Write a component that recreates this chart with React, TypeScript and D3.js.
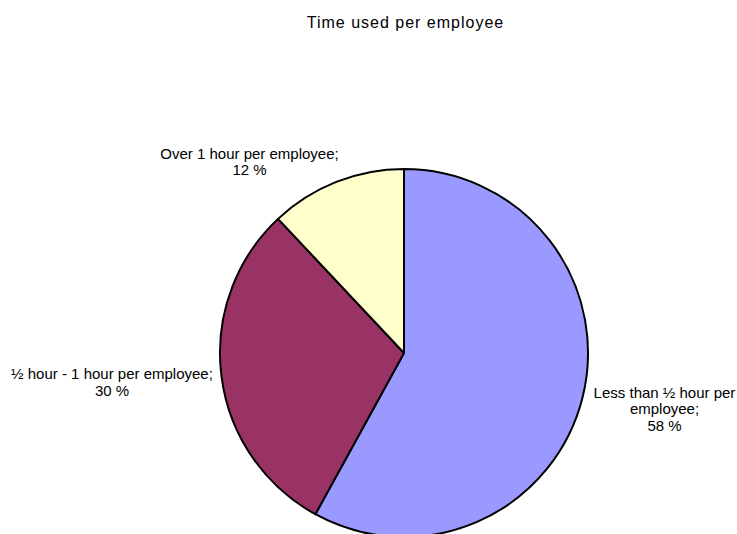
import React from "react";
import * as d3 from "d3";

const categories = ["Less than ½ hour per employee", "½ hour - 1 hour per employee", "Over 1 hour per employee"];
const values = [58, 30, 12];
const colors = ["#9999FF", "#993366", "#FFFFCC"];
const labelLines = [
  ["Less than ½ hour per", "employee;", "58 %"],
  ["½ hour - 1 hour per employee;", "30  %"],
  ["Over 1 hour per employee;", "12 %"],
];
const title = "Time used per employee";

const W = 737, H = 534;
const cx = 404, cy = 353, R = 184;
const labelPos: [number, number][] = [
  [664.5, 397.5],
  [112, 379],
  [249.5, 158.5],
];

export default function App() {
  const pie = d3.pie<number>().sort(null).startAngle(0).endAngle(2 * Math.PI);
  const arcs = pie(values);
  const arc = d3.arc<d3.PieArcDatum<number>>().innerRadius(0).outerRadius(R);
  return (
    <svg width={W} height={H} style={{ position: "absolute", left: 0, top: 0, overflow: "hidden" }}
      fontFamily="Liberation Sans, Arial, sans-serif">
      <rect width={W} height={H} fill="#fff" />
      <text x={405.5} y={27.5} textAnchor="middle" fontSize={16} letterSpacing={1}>{title}</text>
      <g transform={`translate(${cx},${cy})`}>
        {arcs.map((a, i) => (
          <path key={categories[i]} d={arc(a) || ""} fill={colors[i]} stroke="#000" strokeWidth={2} strokeLinejoin="round" />
        ))}
      </g>
      {labelLines.map((lines, i) => (
        <text key={i} x={labelPos[i][0]} y={labelPos[i][1]} textAnchor="middle" fontSize={15}>
          {lines.map((l, j) => (
            <tspan key={j} x={labelPos[i][0]} dy={j === 0 ? 0 : 16.5}>{l}</tspan>
          ))}
        </text>
      ))}
    </svg>
  );
}
